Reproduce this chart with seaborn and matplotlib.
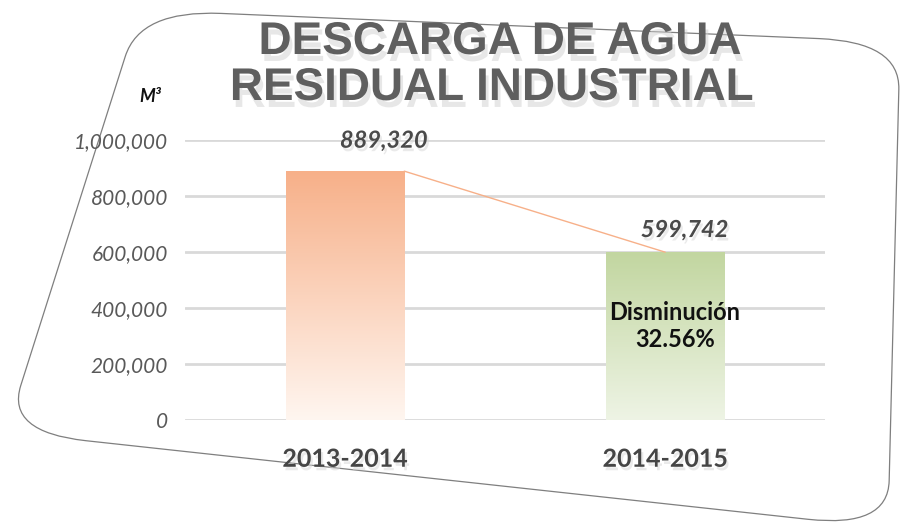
import numpy as np
import matplotlib
matplotlib.use("Agg")
import matplotlib.pyplot as plt
import matplotlib.colors as mcolors
from matplotlib.path import Path
from matplotlib.patches import PathPatch
import matplotlib.patheffects as pe
import seaborn as sns

# data
periods = ["2013-2014", "2014-2015"]
volumes = [889320, 599742]
y_ticks = [0, 200000, 400000, 600000, 800000, 1000000]
title_lines = ["DESCARGA DE AGUA", "RESIDUAL INDUSTRIAL"]
unit_label = "M³"

bar_top = ["#F7B089", "#C2D6A0"]
bar_bottom = ["#FFF6F0", "#EEF4E5"]

sns.set_theme(style="white")
plt.rcParams["font.family"] = ["Lato", "DejaVu Sans"]

W, H = 902, 525
fig = plt.figure(figsize=(W / 100, H / 100), dpi=100)
fig.patch.set_facecolor("white")


def px(x, y):
    return (x / W, 1 - y / H)


# rounded, slightly skewed card outline
corners = [px(140, 10), px(900, 42), px(888, 528), px(6, 432)]
r = 0.09
verts, codes = [], []
n = len(corners)
for i in range(n):
    p = np.array(corners[i])
    prv = np.array(corners[i - 1])
    nxt = np.array(corners[(i + 1) % n])
    a = p + r * (prv - p) / np.linalg.norm(prv - p)
    b = p + r * (nxt - p) / np.linalg.norm(nxt - p)
    verts += [tuple(a), tuple(p), tuple(b)]
    codes += [Path.MOVETO if i == 0 else Path.LINETO, Path.CURVE3, Path.CURVE3]
verts.append(verts[0])
codes.append(Path.CLOSEPOLY)
card = PathPatch(Path(verts, codes), transform=fig.transFigure,
                 facecolor="none", edgecolor="#7f7f7f", lw=0.9, zorder=-1)
fig.patches.append(card)

ax = fig.add_axes([0.205, 0.2, 0.71, 0.533])
ax.set_facecolor("none")

sns.barplot(x=periods, y=volumes, hue=periods, palette=bar_top,
            width=0.37, legend=False, ax=ax, zorder=3)

# gradient fill for each bar (top colour fading to almost white)
for p, c_top, c_bot in zip(ax.patches, bar_top, bar_bottom):
    x0, w, h = p.get_x(), p.get_width(), p.get_height()
    t = np.linspace(0, 1, 256)[:, None]
    top = np.array(mcolors.to_rgb(c_top))
    bot = np.array(mcolors.to_rgb(c_bot))
    grad = top * (1 - t[..., None]) + bot * t[..., None]
    grad = np.repeat(grad, 2, axis=1)
    ax.imshow(grad, extent=[x0, x0 + w, 0, h], aspect="auto", zorder=3,
              interpolation="bilinear")
    p.set_visible(False)

# connector line between the bar tops
b1, b2 = ax.patches[0], ax.patches[1]
sns.lineplot(x=[b1.get_x() + b1.get_width(), b2.get_x() + b2.get_width() / 2],
             y=volumes, color="#F7B089", lw=1.0, ax=ax, zorder=4)

# value labels
shadow = [pe.withSimplePatchShadow(offset=(1.5, -2.5), shadow_rgbFace="#d6d6d6", alpha=0.5)]
for p, v, dx, dy in zip(ax.patches, volumes, [28, 14], [14, 8]):
    ax.annotate(f"{v:,}", (p.get_x() + p.get_width() / 2, v), xytext=(dx, dy),
                textcoords="offset points", ha="center", va="bottom",
                fontsize=17, style="italic", fontweight="bold", color="#4a4a4a",
                zorder=5, path_effects=shadow)

drop = (1 - volumes[1] / volumes[0]) * 100
ax.text(b2.get_x() + b2.get_width() / 2 + 0.03, volumes[1] * 0.56,
        f"Disminución\n{drop:.2f}%", ha="center", va="center",
        fontsize=17, fontweight="bold", color="#111111", linespacing=1.25,
        zorder=5)

ax.set_xlim(-0.5, 1.5)
ax.set_ylim(0, 1000000)
ax.set_yticks(y_ticks)
ax.set_yticklabels([f"{t:,}" for t in y_ticks], fontsize=15, style="italic",
                   color="#595959")
ax.tick_params(axis="y", length=0, pad=12)
ax.tick_params(axis="x", length=0, pad=20, labelsize=18, labelcolor="#454545")
for lbl in ax.get_xticklabels():
    lbl.set_fontweight("bold")
    lbl.set_path_effects(shadow)
ax.grid(axis="y", color="#d9d9d9", lw=2)
ax.set_axisbelow(True)
for s in ax.spines.values():
    s.set_visible(False)
ax.set_xlabel("")
ax.set_ylabel("")

# title and unit
title_shadow = [pe.withSimplePatchShadow(offset=(2, -5), shadow_rgbFace="#d0d0d0", alpha=0.5)]
fig.text(*px(500, 42), title_lines[0], ha="center", va="center", fontsize=33,
         fontweight="bold", color="#5f5f5f", family="Liberation Sans",
         path_effects=title_shadow)
fig.text(*px(492, 88), title_lines[1], ha="center", va="center", fontsize=33,
         fontweight="bold", color="#5f5f5f", family="Liberation Sans",
         path_effects=title_shadow)
fig.text(*px(150, 97), unit_label, ha="center", va="center", fontsize=13,
         fontweight="bold", style="italic", color="#111111")

fig.savefig("out.png", dpi=100, facecolor="white")
